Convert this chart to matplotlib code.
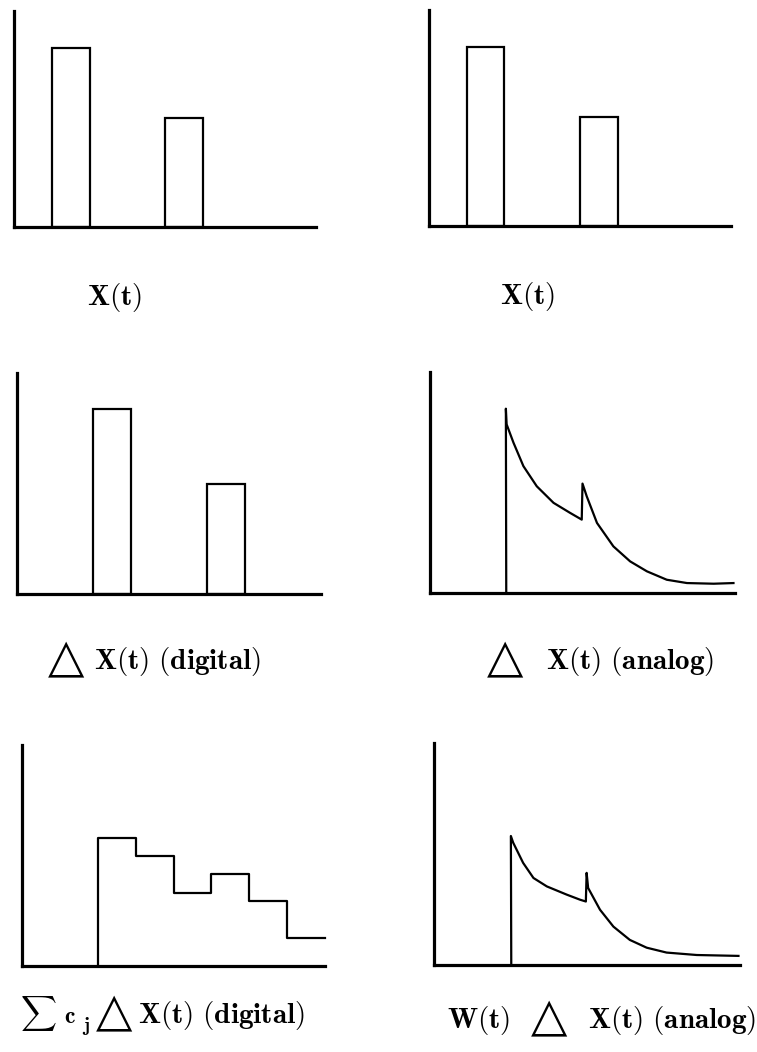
import matplotlib
matplotlib.use("Agg")
import matplotlib.pyplot as plt

plt.rcParams['mathtext.fontset'] = 'cm'

W, H = 757, 1052

# input pulses X(t): start times, heights
pulse_start = [1, 4]
pulse_height = [8.3, 5.05]
# delayed digital response
delay_start = [2, 5]
delay_height = [8.35, 5.0]

# analog response (curve)
analog_x = [2.0, 1.99, 2.01, 2.19, 2.45, 2.80, 3.24, 3.67, 3.98, 4.00, 4.11, 4.38, 4.81,
            5.25, 5.69, 6.21, 6.74, 7.44, 7.96]
analog_y = [0.0, 8.34, 7.63, 6.80, 5.74, 4.83, 4.08, 3.63, 3.32, 4.95, 4.38, 3.17, 2.11,
            1.43, 0.98, 0.60, 0.45, 0.42, 0.45]

# weighted digital response (staircase)
step_edges = [2, 3, 4, 5, 6, 7, 8]
step_levels = [5.79, 4.96, 3.31, 4.18, 2.93, 1.25]

# weighted analog response
wanalog_x = [2.02, 2.01, 2.07, 2.33, 2.60, 2.95, 3.47, 3.82, 3.97, 3.99, 4.03, 4.34, 4.69,
             5.12, 5.56, 6.08, 6.87, 7.96]
wanalog_y = [0.0, 5.81, 5.51, 4.60, 3.92, 3.54, 3.17, 2.94, 2.86, 4.15, 3.47, 2.49, 1.73,
             1.13, 0.78, 0.56, 0.45, 0.41]


def rect(l, r, t, b):
    return [l / W, 1 - b / H, (r - l) / W, (b - t) / H]


def make_ax(fig, box):
    ax = fig.add_axes(rect(*box))
    ax.set_xlim(0, 8)
    ax.set_ylim(0, 10)
    for s in ['top', 'right']:
        ax.spines[s].set_visible(False)
    for s in ['left', 'bottom']:
        ax.spines[s].set_linewidth(2.3)
        ax.spines[s].set_color('black')
    ax.set_xticks([])
    ax.set_yticks([])
    ax.patch.set_alpha(0)
    return ax


def ftext(x, y, s, **kw):
    fig.text(x / W, 1 - y / H, s, va='baseline', color='black', **kw)


fig = plt.figure(figsize=(W / 100, H / 100), dpi=100)

lw = 1.6

# row 1
ax1 = make_ax(fig, (14, 316, 11, 227))
ax1.bar(pulse_start, pulse_height, width=1, align='edge', fill=False,
        edgecolor='black', linewidth=lw)
ax2 = make_ax(fig, (429, 731, 10, 226))
ax2.bar(pulse_start, pulse_height, width=1, align='edge', fill=False,
        edgecolor='black', linewidth=lw)

# row 2
ax3 = make_ax(fig, (17, 321, 373, 594))
ax3.bar(delay_start, delay_height, width=1, align='edge', fill=False,
        edgecolor='black', linewidth=lw)
ax4 = make_ax(fig, (430, 735, 372, 593))
ax4.plot(analog_x, analog_y, color='black', linewidth=lw, clip_on=False)

# row 3
ax5 = make_ax(fig, (22, 325, 745, 966))
ax5.plot([step_edges[0]] + step_edges, [0] + step_levels + [step_levels[-1]],
         drawstyle='steps-post', color='black', linewidth=lw, clip_on=False)
ax6 = make_ax(fig, (434, 740, 743, 965))
ax6.plot(wanalog_x, wanalog_y, color='black', linewidth=lw, clip_on=False)

# labels
fs = 21
tri = dict(family='DejaVu Sans', fontweight='bold', fontsize=34)
ftext(115, 305, r'$\mathbf{X(t)}$', ha='center', fontsize=fs)
ftext(528, 304, r'$\mathbf{X(t)}$', ha='center', fontsize=fs)

ftext(48, 671, '△', **tri)
ftext(94, 669, r'$\mathbf{X(t)\ (digital)}$', fontsize=fs)
ftext(487, 671, '△', **tri)
ftext(546, 669, r'$\mathbf{X(t)\ (analog)}$', fontsize=fs)

ftext(20, 1022, r'$\sum$', fontsize=18)
ftext(64, 1023, r'$\mathbf{c}$', fontsize=17)
ftext(82, 1031, r'$\mathbf{j}$', fontsize=14)
ftext(96, 1025, '△', **tri)
ftext(138, 1023, r'$\mathbf{X(t)\ (digital)}$', fontsize=fs)

ftext(447, 1028, r'$\mathbf{W(t)}$', fontsize=fs)
ftext(531, 1030, '△', **tri)
ftext(588, 1028, r'$\mathbf{X(t)\ (analog)}$', fontsize=fs)

fig.savefig('out.png', dpi=100, facecolor='white')
